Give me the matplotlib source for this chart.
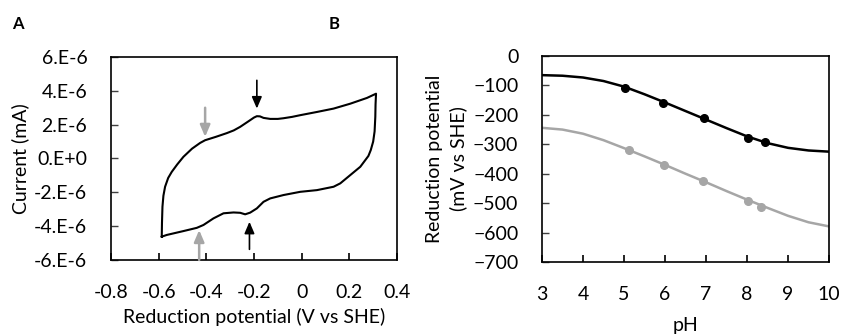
import matplotlib
matplotlib.use("Agg")
import matplotlib.pyplot as plt

plt.rcParams['font.family'] = ['Lato', 'DejaVu Sans']

# ---- Panel A: cyclic voltammogram (V vs SHE, mA) ----
cv_upper_x = [-0.587, -0.586, -0.584, -0.580, -0.573, -0.560, -0.545, -0.522, -0.496,
              -0.460, -0.426, -0.405, -0.360, -0.314, -0.285, -0.258, -0.223, -0.200,
              -0.188, -0.175, -0.160, -0.132, -0.100, -0.076, -0.040, -0.006, 0.064,
              0.134, 0.204, 0.274, 0.312]
cv_upper_y = [-4.62e-6, -3.80e-6, -2.85e-6, -2.20e-6, -1.67e-6, -1.15e-6, -0.79e-6,
              -0.35e-6, 0.10e-6, 0.58e-6, 0.92e-6, 1.08e-6, 1.28e-6, 1.50e-6, 1.66e-6,
              1.87e-6, 2.20e-6, 2.42e-6, 2.50e-6, 2.49e-6, 2.40e-6, 2.34e-6, 2.34e-6,
              2.38e-6, 2.46e-6, 2.56e-6, 2.75e-6, 2.95e-6, 3.24e-6, 3.58e-6, 3.83e-6]
cv_lower_x = [0.312, 0.310, 0.309, 0.306, 0.300, 0.290, 0.280, 0.246, 0.204, 0.162,
              0.134, 0.064, -0.006, -0.076, -0.132, -0.160, -0.188, -0.216, -0.237,
              -0.258, -0.286, -0.328, -0.370, -0.412, -0.440, -0.496, -0.566, -0.587]
cv_lower_y = [3.83e-6, 3.20e-6, 2.46e-6, 1.60e-6, 1.00e-6, 0.50e-6, 0.15e-6, -0.49e-6,
              -0.98e-6, -1.47e-6, -1.67e-6, -1.87e-6, -1.97e-6, -2.16e-6, -2.36e-6,
              -2.56e-6, -2.95e-6, -3.20e-6, -3.30e-6, -3.21e-6, -3.19e-6, -3.24e-6,
              -3.54e-6, -3.93e-6, -4.10e-6, -4.29e-6, -4.52e-6, -4.62e-6]

# arrows: (x, y_tail, y_tip, colour)
arrows = [(-0.188, 4.62e-6, 2.95e-6, 'black'),
          (-0.405, 3.00e-6, 1.28e-6, '#A6A6A6'),
          (-0.219, -5.37e-6, -3.74e-6, 'black'),
          (-0.430, -6.00e-6, -4.23e-6, '#A6A6A6')]

a_xticks = [-0.8, -0.6, -0.4, -0.2, 0, 0.2, 0.4]
a_xlabels = ['-0.8', '-0.6', '-0.4', '-0.2', '0', '0.2', '0.4']
a_yticks = [-6e-6, -4e-6, -2e-6, 0, 2e-6, 4e-6, 6e-6]
a_ylabels = ['-6.E-6', '-4.E-6', '-2.E-6', '0.E+0', '2.E-6', '4.E-6', '6.E-6']

# ---- Panel B: reduction potential vs pH ----
ph_fit = [3, 3.5, 4, 4.5, 5, 5.5, 6, 6.5, 7, 7.5, 8, 8.5, 9, 9.5, 10]
black_fit = [-65, -67, -73, -85, -104, -130, -158, -187, -216, -245, -273, -296, -312, -321, -325]
gray_fit = [-244, -250, -264, -286, -313, -341, -370, -400, -429, -459, -488, -516, -543, -565, -579]

black_ph = [5.03, 5.96, 6.95, 8.03, 8.45]
black_e = [-107, -158, -209, -278, -292]
gray_ph = [5.11, 5.98, 6.92, 8.03, 8.35]
gray_e = [-320, -371, -425, -494, -513]

b_xticks = [3, 4, 5, 6, 7, 8, 9, 10]
b_yticks = [0, -100, -200, -300, -400, -500, -600, -700]

GRAY = '#A6A6A6'
FS = 14

fig = plt.figure(figsize=(8.42, 3.36), dpi=100)
axA = fig.add_axes([0.1318, 0.2262, 0.3397, 0.6042])
axB = fig.add_axes([0.6437, 0.2202, 0.3409, 0.6131])

cx = cv_upper_x + cv_lower_x
cy = cv_upper_y + cv_lower_y
axA.plot(cx, cy, color='black', lw=1.5, solid_joinstyle='round')
for x, yt, yh, c in arrows:
    axA.annotate('', xy=(x, yh), xytext=(x, yt),
                 arrowprops=dict(arrowstyle='-|>,head_length=0.7,head_width=0.3',
                                 color=c, lw=1.2 if c == 'black' else 1.8,
                                 shrinkA=0, shrinkB=0))
axA.set_xlim(-0.8, 0.4)
axA.set_ylim(-6e-6, 6e-6)
axA.set_xticks(a_xticks)
axA.set_xticklabels(a_xlabels)
axA.set_yticks(a_yticks)
axA.set_yticklabels(a_ylabels)
axA.set_xlabel('Reduction potential (V vs SHE)', fontsize=FS, labelpad=5)
axA.set_ylabel('Current (mA)', fontsize=FS, labelpad=4)

axB.plot(ph_fit, black_fit, color='black', lw=1.8)
axB.plot(ph_fit, gray_fit, color=GRAY, lw=1.8)
axB.plot(black_ph, black_e, 'o', color='black', ms=5.5)
axB.plot(gray_ph, gray_e, 'o', color=GRAY, ms=5.5)
axB.set_xlim(3, 10)
axB.set_ylim(-700, 0)
axB.set_xticks(b_xticks)
axB.set_yticks(b_yticks)
axB.set_xlabel('pH', fontsize=FS, labelpad=10)
axB.set_ylabel('Reduction potential\n(mV vs SHE)', fontsize=FS, labelpad=4, linespacing=1.45)

for ax in (axA, axB):
    for s in ax.spines.values():
        s.set_linewidth(1.2)
    ax.tick_params(direction='in', length=5, width=1.2, labelsize=FS)
    ax.tick_params(axis='x', pad=17)
    ax.tick_params(axis='y', length=5, width=1.0, color='#404040', pad=17)

fig.text(0.0143, 0.929, 'A', fontsize=12, fontweight='bold', va='center')
fig.text(0.390, 0.929, 'B', fontsize=12, fontweight='bold', va='center')

fig.savefig('out.png', dpi=100)
